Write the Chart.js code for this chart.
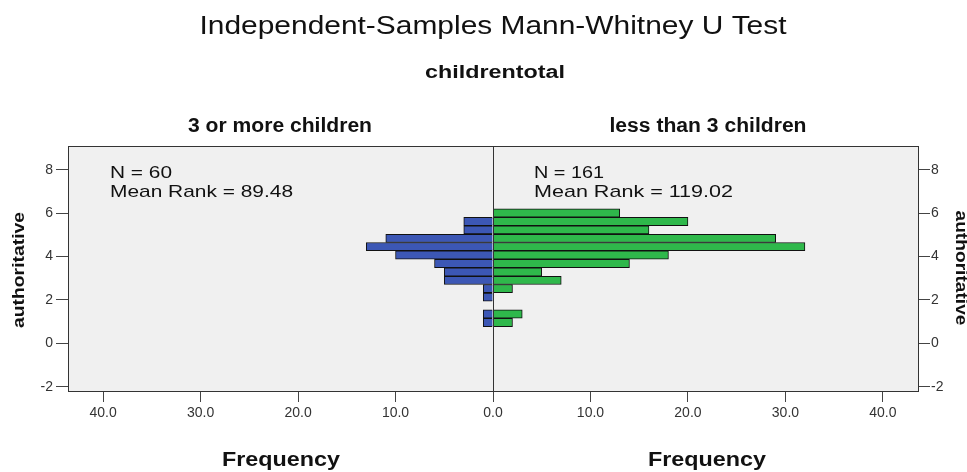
<!DOCTYPE html>
<html>
<head>
<meta charset="utf-8">
<script src="https://cdn.jsdelivr.net/npm/chart.js@4.4.1/dist/chart.umd.min.js"></script>
<style>
  body { margin: 0; background: #ffffff; }
  canvas { display: block; }
</style>
</head>
<body>
<canvas id="graphCanvas" width="967" height="472"></canvas>
<script>
// bin centres of "authoritative" and counts per group
var binCenters = [6.01, 5.62, 5.23, 4.84, 4.46, 4.07, 3.68, 3.29, 2.90, 2.52, 2.13, 1.74, 1.35, 0.96];
var moreChildren = [0, 3, 3, 11, 13, 10, 6, 5, 5, 1, 1, 0, 1, 1];
var lessChildren = [13, 20, 16, 29, 32, 18, 14, 5, 7, 2, 0, 0, 3, 2];
var groupNames = ['3 or more children', 'less than 3 children'];
var groupN = [60, 161];
var meanRanks = ['89.48', '119.02'];
var xTicks = [-40, -30, -20, -10, 0, 10, 20, 30, 40];
var yTicks = [-2, 0, 2, 4, 6, 8];

function toPoints(counts, sign) {
    var pts = [];
    for (var i = 0; i < counts.length; i++) {
        if (counts[i] > 0) {
            pts.push({ x: sign * counts[i], y: binCenters[i] });
        }
    }
    return pts;
}

var FONT = "'Liberation Sans', Arial, sans-serif";

// draw text squeezed/stretched to a given width
function fitText(ctx, text, x, cy, size, weight, width, rot, align) {
    ctx.save();
    ctx.font = weight + ' ' + size + 'px ' + FONT;
    var w = ctx.measureText(text).width;
    ctx.translate(x, cy);
    if (rot) ctx.rotate(rot);
    ctx.scale(width / w, 1);
    ctx.textAlign = align || 'center';
    ctx.textBaseline = 'middle';
    ctx.fillStyle = '#111';
    ctx.fillText(text, 0, 0);
    ctx.restore();
}

var decor = {
    id: 'decor',
    beforeDraw: function (chart) {
        var a = chart.chartArea, ctx = chart.ctx;
        ctx.save();
        ctx.fillStyle = '#f0f0f0';
        ctx.fillRect(a.left, a.top, a.right - a.left, a.bottom - a.top);
        ctx.restore();
    },
    afterDatasetsDraw: function (chart) {
        var a = chart.chartArea, ctx = chart.ctx;
        var x0 = Math.round(chart.scales.x.getPixelForValue(0)) + 0.5;
        ctx.save();
        ctx.strokeStyle = '#333';
        ctx.lineWidth = 1;
        ctx.beginPath();
        ctx.moveTo(x0, a.top);
        ctx.lineTo(x0, a.bottom);
        ctx.stroke();
        ctx.strokeRect(Math.round(a.left) + 0.5, Math.round(a.top) + 0.5,
            Math.round(a.right - a.left), Math.round(a.bottom - a.top));
        ctx.restore();
    },
    afterDraw: function (chart) {
        var ctx = chart.ctx;
        fitText(ctx, 'Independent-Samples Mann-Whitney U Test', 493, 27, 25, 'normal', 587);
        fitText(ctx, 'childrentotal', 495, 73, 18, 'bold', 140);
        fitText(ctx, groupNames[0], 280, 126, 20, 'bold', 184);
        fitText(ctx, groupNames[1], 708, 126, 20, 'bold', 197);
        fitText(ctx, 'Frequency', 281, 460, 21, 'bold', 118);
        fitText(ctx, 'Frequency', 707, 460, 21, 'bold', 118);
        fitText(ctx, 'authoritative', 19, 270, 17, 'bold', 116, -Math.PI / 2);
        fitText(ctx, 'authoritative', 961, 268, 17, 'bold', 115, Math.PI / 2);

        fitText(ctx, 'N = ' + groupN[0], 110, 173, 17, 'normal', 62, 0, 'left');
        fitText(ctx, 'Mean Rank = ' + meanRanks[0], 110, 192, 17, 'normal', 183, 0, 'left');
        fitText(ctx, 'N = ' + groupN[1], 534, 173, 17, 'normal', 70, 0, 'left');
        fitText(ctx, 'Mean Rank = ' + meanRanks[1], 534, 192, 17, 'normal', 199, 0, 'left');
    }
};

var tickFont = { family: FONT, size: 14 };

var graphTarget = document.getElementById('graphCanvas');
var pyramid = new Chart(graphTarget, {
    type: 'bar',
    data: {
        datasets: [
            {
                label: groupNames[0],
                data: toPoints(moreChildren, -1),
                backgroundColor: '#3c57b5',
                borderColor: '#111111',
                borderWidth: 1,
                grouped: false,
                categoryPercentage: 1,
                barPercentage: 1
            },
            {
                label: groupNames[1],
                data: toPoints(lessChildren, 1),
                backgroundColor: '#2fb84b',
                borderColor: '#111111',
                borderWidth: 1,
                grouped: false,
                categoryPercentage: 1,
                barPercentage: 1
            }
        ]
    },
    options: {
        indexAxis: 'y',
        responsive: false,
        animation: false,
        layout: { padding: { top: 146, left: 0, right: 0, bottom: 0 } },
        plugins: {
            legend: { display: false },
            tooltip: { enabled: false }
        },
        scales: {
            x: {
                type: 'linear',
                min: -43.6,
                max: 43.6,
                afterFit: function (s) { s.height = 81; },
                afterBuildTicks: function (s) {
                    s.ticks = xTicks.map(function (v) { return { value: v }; });
                },
                ticks: {
                    font: tickFont,
                    color: '#333',
                    padding: 3,
                    maxRotation: 0,
                    callback: function (v) { return Math.abs(v).toFixed(1); }
                },
                grid: { drawOnChartArea: false, tickLength: 11, color: '#444' },
                border: { display: false }
            },
            y: {
                type: 'linear',
                position: 'left',
                offset: false,
                min: -2.2,
                max: 9.1,
                afterFit: function (s) { s.width = 68; },
                afterBuildTicks: function (s) {
                    s.ticks = yTicks.map(function (v) { return { value: v }; });
                },
                ticks: { font: tickFont, color: '#333', padding: 3 },
                grid: { offset: false, drawOnChartArea: false, tickLength: 12, color: '#444' },
                border: { display: false }
            },
            y2: {
                type: 'linear',
                position: 'right',
                offset: false,
                min: -2.2,
                max: 9.1,
                afterFit: function (s) { s.width = 49; },
                afterBuildTicks: function (s) {
                    s.ticks = yTicks.map(function (v) { return { value: v }; });
                },
                ticks: { font: tickFont, color: '#333', padding: 1 },
                grid: { offset: false, drawOnChartArea: false, tickLength: 12, color: '#444' },
                border: { display: false }
            }
        }
    },
    plugins: [decor]
});
</script>
</body>
</html>
